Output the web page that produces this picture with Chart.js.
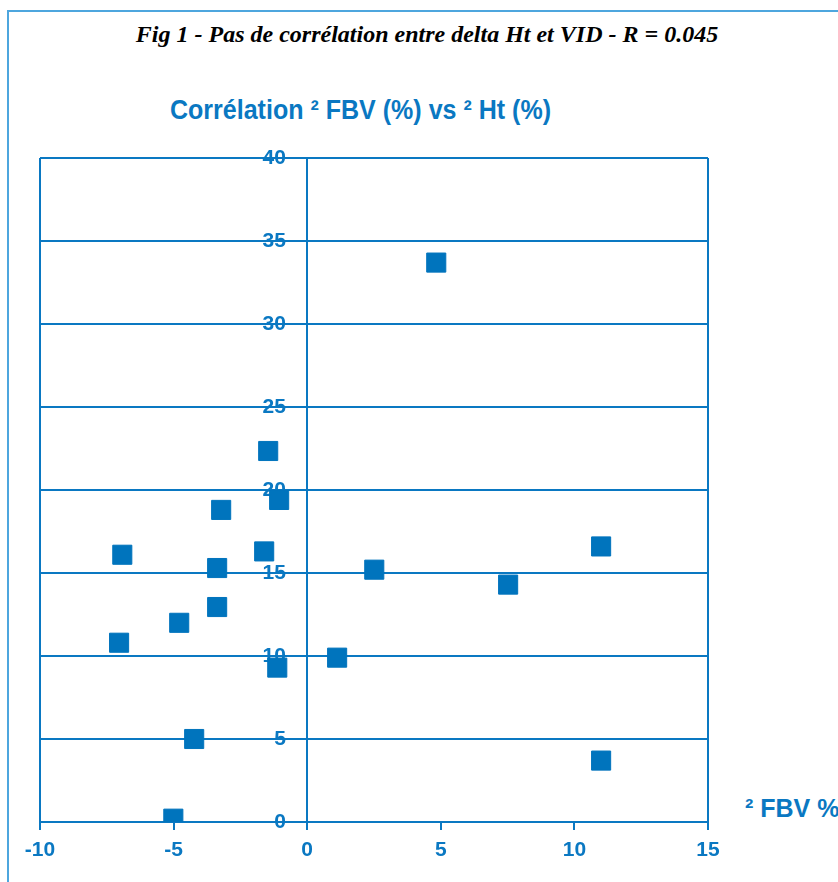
<!DOCTYPE html>
<html>
<head>
<meta charset="utf-8">
<script src="https://cdn.jsdelivr.net/npm/chart.js@4.4.1/dist/chart.umd.min.js"></script>
<style>
  html, body { margin: 0; padding: 0; background: #fff; }
  body { position: relative; width: 838px; height: 882px; overflow: hidden; }
  #frame { position: absolute; left: 7px; top: 10px; width: 900px; height: 900px;
           border-top: 2px solid #4ea6de; border-left: 2px solid #4ea6de; }
  #fig { position: absolute; left: 0; width: 854px; top: 22px; text-align: center; white-space: nowrap;
         font: italic bold 24px 'Liberation Serif', serif; line-height: 24px; color: #000; }
  #ttl { position: absolute; left: 0; width: 721px; top: 96px; text-align: center;
         font: bold 28px 'Liberation Sans', Arial, sans-serif; line-height: 28px; color: #0a78c2;
         transform: scaleX(0.894); white-space: nowrap; }
  #xlab { position: absolute; left: 745px; top: 796px; white-space: nowrap;
          font: bold 25px 'Liberation Sans', Arial, sans-serif; line-height: 25px; color: #0a78c2; }
  canvas { position: absolute; left: 0; top: 0; }
</style>
</head>
<body>
<div id="frame"></div>
<div id="fig">Fig 1 - Pas de corrélation entre delta Ht et VID - R = 0.045</div>
<div id="ttl">Corrélation ² FBV (%) vs ² Ht (%)</div>
<div id="xlab">² FBV %</div>
<canvas id="chart" width="838" height="882"></canvas>
<script>
'use strict';
// delta FBV (%) and delta Ht (%) per patient
var fbvDelta = [4.83, -1.46, -3.22, -1.05, -6.92, -1.61, -3.37, 2.51, 11.0, 7.52, -3.37, -4.79, -7.04, 1.12, -1.12, -4.23, 11.0, -5.01];
var htDelta  = [33.7, 22.35, 18.8, 19.4, 16.1, 16.3, 15.3, 15.2, 16.6, 14.3, 12.95, 12.0, 10.8, 9.9, 9.3, 5.0, 3.7, 0.2];
var xRange = [-10, 15];
var yRange = [0, 40];
var tickStep = 5;
var xGridShown = [-10, 0, 15];

var BLUE = '#0a78c2';
var MARK = '#0074bd';

var points = fbvDelta.map(function(x, i) { return { x: x, y: htDelta[i] }; });

new Chart(document.getElementById('chart'), {
  type: 'scatter',
  data: {
    datasets: [{
      data: points,
      pointStyle: 'rect',
      pointRadius: 13.5,
      pointHoverRadius: 13.5,
      backgroundColor: MARK,
      borderColor: MARK,
      borderWidth: 1
    }]
  },
  options: {
    responsive: false,
    animation: false,
    devicePixelRatio: 1,
    layout: { padding: { left: 40, right: 130, top: 158, bottom: 0 } },
    plugins: { legend: { display: false }, tooltip: { enabled: false }, title: { display: false } },
    scales: {
      x: {
        type: 'linear',
        position: 'bottom',
        min: xRange[0],
        max: xRange[1],
        afterFit: function(s) { s.height = 60; },
        ticks: {
          stepSize: tickStep,
          padding: 8,
          color: BLUE,
          font: { family: "'Liberation Sans', Arial, sans-serif", size: 21, weight: 'bold' }
        },
        grid: {
          lineWidth: 2,
          tickLength: 8,
          tickColor: BLUE,
          tickWidth: 2,
          color: function(ctx) {
            return ctx.tick && xGridShown.indexOf(ctx.tick.value) >= 0 ? BLUE : 'rgba(0,0,0,0)';
          }
        },
        border: { color: BLUE, width: 2 }
      },
      y: {
        type: 'linear',
        position: { x: -0.8 },
        min: yRange[0],
        max: yRange[1],
        afterFit: function(s) { s.width = 0; },
        ticks: {
          stepSize: tickStep,
          color: BLUE,
          font: { family: "'Liberation Sans', Arial, sans-serif", size: 21, weight: 'bold' }
        },
        grid: { lineWidth: 2, color: BLUE, drawTicks: false },
        border: { display: false }
      }
    }
  }
});
</script>
</body>
</html>
